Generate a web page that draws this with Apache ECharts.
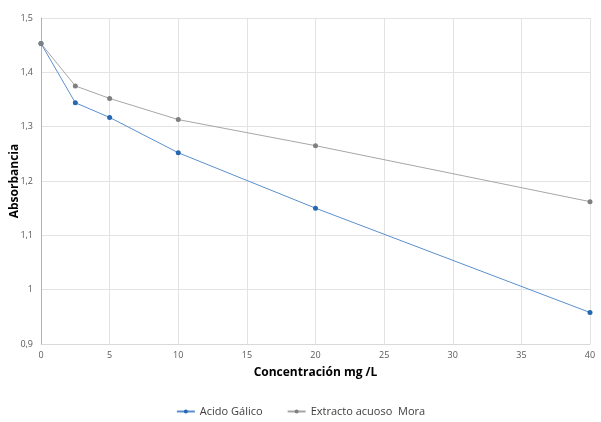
<!DOCTYPE html>
<html>
<head>
<meta charset="utf-8">
<script src="https://cdn.jsdelivr.net/npm/echarts@6/dist/echarts.min.js"></script>
<style>
  html, body { margin: 0; padding: 0; background: #fff; }
  #chart { width: 601px; height: 422px; }
</style>
</head>
<body>
<div id="chart"></div>
<script>
// concentracion (mg/L)
var concentracion = [0, 2.5, 5, 10, 20, 40];
var acidoGalico = [1.453, 1.344, 1.317, 1.252, 1.150, 0.958];
var extractoMora = [1.453, 1.375, 1.352, 1.313, 1.265, 1.162];
var seriesNames = ['Acido Gálico', 'Extracto acuoso  Mora'];

function pairs(ys) {
    return concentracion.map(function (x, i) { return [x, ys[i]]; });
}

var myChart = echarts.init(document.getElementById('chart'));

var option = {
    animation: false,
    textStyle: {fontFamily: 'Open Sans, Calibri, sans-serif'},
    grid: {left: 41, right: 11, top: 18, bottom: 78, containLabel: false, outerBoundsMode: 'none'},
    legend: {
        data: seriesNames,
        bottom: 0,
        left: 'center',
        itemGap: 24,
        itemWidth: 18,
        itemHeight: 5,
        textStyle: {fontSize: 11, color: '#404040'}
    },
    xAxis: {
        type: 'value',
        min: 0,
        max: 40,
        interval: 5,
        name: 'Concentración mg /L',
        nameLocation: 'middle',
        nameGap: 23,
        nameMoveOverlap: false,
        nameTextStyle: {fontWeight: 'bold', fontSize: 12, color: '#000'},
        axisLine: {show: true, lineStyle: {color: '#d9d9d9'}},
        axisTick: {show: false},
        axisLabel: {fontSize: 9, color: '#595959', margin: 7},
        splitLine: {show: true, lineStyle: {color: '#e3e3e3'}}
    },
    yAxis: {
        type: 'value',
        min: 0.9,
        max: 1.5,
        interval: 0.1,
        name: 'Absorbancia',
        nameLocation: 'middle',
        nameGap: 20,
        nameMoveOverlap: false,
        nameTextStyle: {fontWeight: 'bold', fontSize: 12, color: '#000'},
        axisLine: {show: true, lineStyle: {color: '#a9b4c8'}},
        axisTick: {show: false},
        axisLabel: {
            fontSize: 9, color: '#595959', margin: 8,
            formatter: function (v) { return String(Math.round(v * 10) / 10).replace('.', ','); }
        },
        splitLine: {show: true, lineStyle: {color: '#e3e3e3'}}
    },
    series: [
        {
            name: seriesNames[0],
            type: 'line',
            data: pairs(acidoGalico),
            symbol: 'circle',
            symbolSize: 5,
            itemStyle: {color: '#2667b4'},
            lineStyle: {color: '#5b8fcc', width: 1}
        },
        {
            name: seriesNames[1],
            type: 'line',
            data: pairs(extractoMora),
            symbol: 'circle',
            symbolSize: 5,
            itemStyle: {color: '#7f7f7f'},
            lineStyle: {color: '#a6a6a6', width: 1}
        }
    ]
};

myChart.setOption(option, true);
</script>
</body>
</html>
